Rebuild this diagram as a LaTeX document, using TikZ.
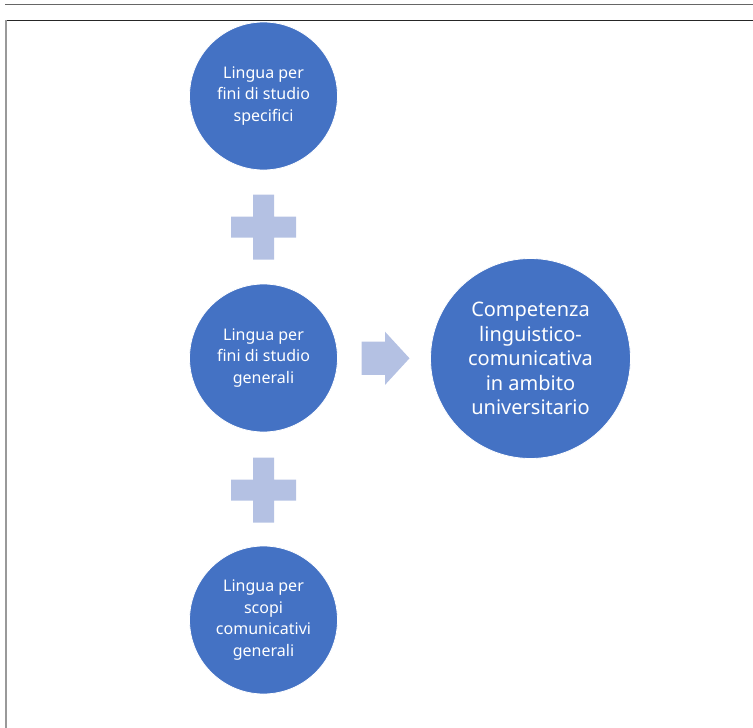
\documentclass[tikz,border=0pt]{standalone}
\usepackage{fontspec}
\setmainfont{Noto Sans}
\definecolor{cblue}{HTML}{4472C4}
\definecolor{clight}{HTML}{B4C1E3}
\tikzset{
  bubble/.style={circle, fill=cblue, draw=white, line width=0.8pt, text=white, align=center, inner sep=0pt},
  small/.style={bubble, minimum size=148pt, font=\fontsize{16}{21.5}\selectfont},
  big/.style={bubble, minimum size=200pt, font=\fontsize{20}{24.5}\selectfont},
  light/.style={fill=clight, draw=none}
}
\begin{document}
\begin{tikzpicture}[x=1pt,y=-1pt]
\useasboundingbox (0,0) rectangle (753,728);
% frame
\draw[line width=1.5pt, color=black!60] (5,4.5) -- (753,4.5);
\draw[line width=1pt, color=black!85] (5,20) -- (753,20);
\draw[line width=2pt, color=black!40] (6,20) -- (6,728);
% circles
\node[small] (a) at (263.5,96) {Lingua per\\fini di studio\\specifici};
\node[small] (b) at (263.5,358) {Lingua per\\fini di studio\\generali};
\node[small] (c) at (263.5,620) {Lingua per\\scopi\\comunicativi\\generali};
\node[big] (d) at (530.5,358.5) {Competenza\\linguistico-\\comunicativa\\in ambito\\universitario};
% plus signs
\coordinate (p1) at (263.5,227);
\coordinate (p2) at (263.5,490);
\foreach \p in {p1,p2}{
  \fill[light] ([shift={(-10.5,-32.5)}]\p) -- ([shift={(10.5,-32.5)}]\p) -- ([shift={(10.5,-10.5)}]\p)
    -- ([shift={(32.5,-10.5)}]\p) -- ([shift={(32.5,10.5)}]\p) -- ([shift={(10.5,10.5)}]\p)
    -- ([shift={(10.5,32.5)}]\p) -- ([shift={(-10.5,32.5)}]\p) -- ([shift={(-10.5,10.5)}]\p)
    -- ([shift={(-32.5,10.5)}]\p) -- ([shift={(-32.5,-10.5)}]\p) -- ([shift={(-10.5,-10.5)}]\p) -- cycle;
}
% arrow
\coordinate (ar) at (361.5,358.3);
\fill[light] ([shift={(0,-16.6)}]ar) -- ([shift={(23.5,-16.6)}]ar) -- ([shift={(23.5,-26.6)}]ar)
  -- ([shift={(48,0)}]ar) -- ([shift={(23.5,26.6)}]ar) -- ([shift={(23.5,16.6)}]ar)
  -- ([shift={(0,16.6)}]ar) -- cycle;
\end{tikzpicture}
\end{document}
